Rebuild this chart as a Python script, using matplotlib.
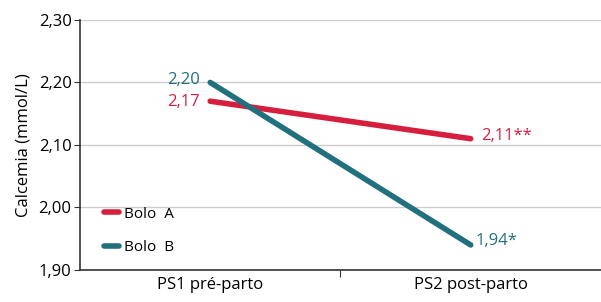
import matplotlib
matplotlib.use('Agg')
import matplotlib.pyplot as plt

plt.rcParams['font.family'] = ['Open Sans', 'DejaVu Sans']

# dados
periods = ['PS1 pré-parto', 'PS2 post-parto']
bolo_a = [2.17, 2.11]
bolo_b = [2.20, 1.94]
labels_a = ['2,17', '2,11**']
labels_b = ['2,20', '1,94*']
yticks = [1.90, 2.00, 2.10, 2.20, 2.30]

red = '#d61f3c'
teal = '#21707e'

fig = plt.figure(figsize=(6.01, 3.02), dpi=100)
ax = fig.add_axes([0.133, 0.106, 0.867, 0.828])

xpos = [0.5, 1.5]
ax.plot(xpos, bolo_a, color=red, lw=4, solid_capstyle='round', label='Bolo  A', zorder=3)
ax.plot(xpos, bolo_b, color=teal, lw=4, solid_capstyle='round', label='Bolo  B', zorder=3)

# rótulos dos valores
fs = 12
ax.text(xpos[0] - 0.04, bolo_b[0] + 0.004, labels_b[0], color=teal, ha='right', va='center', fontsize=fs)
ax.text(xpos[0] - 0.04, bolo_a[0] - 0.002, labels_a[0], color=red, ha='right', va='center', fontsize=fs)
ax.text(xpos[1] + 0.04, bolo_a[1] + 0.005, labels_a[1], color=red, ha='left', va='center', fontsize=fs)
ax.text(xpos[1] + 0.02, bolo_b[1] + 0.006, labels_b[1], color=teal, ha='left', va='center', fontsize=fs)

ax.set_xlim(0, 2)
ax.set_ylim(1.90, 2.30)
ax.set_yticks(yticks)
ax.set_yticklabels([f'{v:.2f}'.replace('.', ',') for v in yticks], fontsize=fs)
ax.set_xticks([1])
ax.set_xticklabels([''])
ax.set_xticks(xpos, minor=True)
ax.set_xticklabels(periods, minor=True, fontsize=fs)
ax.tick_params(axis='x', which='minor', length=0, pad=5)
ax.tick_params(axis='x', which='major', length=5, color='#333333')
ax.tick_params(axis='y', length=4, color='#333333', pad=2)

ax.set_ylabel('Calcemia (mmol/L)', fontsize=fs, labelpad=5)

ax.grid(axis='y', color='#cccccc', lw=1)
ax.set_axisbelow(True)
for s in ['top', 'right']:
    ax.spines[s].set_visible(False)
for s in ['left', 'bottom']:
    ax.spines[s].set_color('#333333')
    ax.spines[s].set_linewidth(1.2)

ax.legend(loc='lower left', bbox_to_anchor=(0.02, 0.005), frameon=False, fontsize=11,
          handlelength=1.0, handletextpad=0.3, labelspacing=1.2)

fig.savefig('out.png', dpi=100)
